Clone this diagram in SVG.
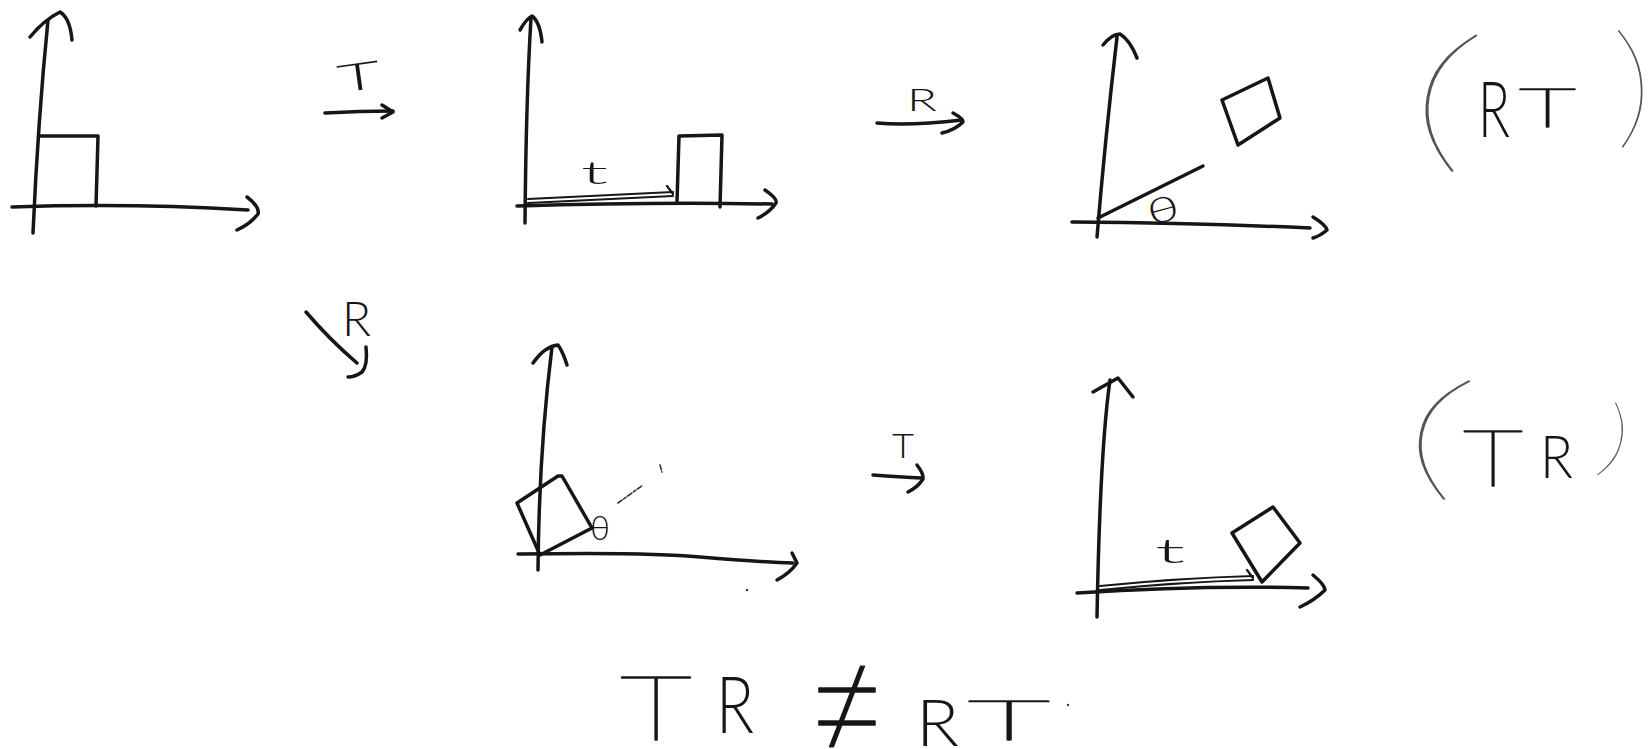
<svg xmlns="http://www.w3.org/2000/svg" width="1651" height="749" viewBox="0 0 1651 749">
<style>
  .ln{fill:none;stroke:#161616;stroke-width:3.5;stroke-linecap:round;stroke-linejoin:round}
  .thin{fill:none;stroke:#161616;stroke-width:2.2;stroke-linecap:round;stroke-linejoin:round}
  .hair{fill:none;stroke:#333;stroke-width:1.6;stroke-linecap:round;stroke-dasharray:5 2 3 2}
  .lbl{font-family:Lato,"DejaVu Sans",sans-serif;fill:#161616;font-weight:300}
  .big{font-family:Lato,"DejaVu Sans",sans-serif;fill:#161616;font-weight:300}
  .mono{font-weight:100;stroke:#161616;stroke-width:1.4;stroke-linejoin:round}
  .paren{font-family:Lato,"DejaVu Sans",sans-serif;font-weight:100;fill:#555;text-anchor:middle}
</style>
<rect width="1651" height="749" fill="#ffffff"/>

<g id="panel1">
  <path class="ln" d="M33,233 Q38,120 48,20"/>
  <path class="ln" d="M30,37 Q44,20 60,12 Q70,18 72,40"/>
  <path class="ln" d="M40,136 L98,136 L96,206"/>
  <path class="ln" d="M12,207 Q130,203 248,210"/>
  <path class="ln" d="M247,197 Q260,207 258,214 Q250,224 237,230"/>
</g>

<g id="panel2">
  <path class="ln" d="M525,223 Q526,100 531,18"/>
  <path class="ln" d="M520,30 Q527,18 532,16 Q540,22 542,42"/>
  <path class="ln" d="M517,206 Q650,202 772,204"/>
  <path class="ln" d="M765,190 Q778,199 776,203 Q770,212 758,218"/>
  <path class="ln" d="M677,202 L679,136 L722,135 L720,207"/>
  <path class="thin" d="M528,199 L673,192"/>
  <path class="thin" d="M528,203 L673,196"/>
  <path class="thin" d="M667,186 L673,194"/>
  <text class="lbl" x="581" y="184" font-size="32" textLength="27" lengthAdjust="spacingAndGlyphs">t</text>
</g>

<g id="panel3">
  <path class="ln" d="M1097,237 Q1105,140 1117,37"/>
  <path class="ln" d="M1103,45 Q1112,34 1120,34 Q1130,40 1137,58"/>
  <path class="ln" d="M1072,222 Q1200,223 1310,228"/>
  <path class="ln" d="M1313,217 Q1326,225 1327,230 Q1320,236 1313,238"/>
  <path class="ln" d="M1098,218 L1203,166"/>
  <path class="ln" d="M1222,100 L1268,78 L1280,118 L1238,145 Z"/>
  <text class="lbl" x="1147" y="222" font-size="35" textLength="32" lengthAdjust="spacingAndGlyphs" font-weight="400" transform="rotate(-15 1163 210)">θ</text>
</g>

<g id="panel4">
  <path class="ln" d="M538,570 Q539,450 552,347"/>
  <path class="ln" d="M533,363 Q545,346 558,345 Q563,352 567,365"/>
  <path class="ln" d="M518,554 Q650,552 700,557 Q760,562 793,563"/>
  <path class="ln" d="M792,553 L797,563 Q790,573 777,580"/>
  <path class="ln" d="M540,555 L517,503 L558,476 L562,476 L592,528 Z"/>
  <path class="hair" d="M618,503 L643,485"/>
  <path class="hair" d="M660,465 L662,472"/>
  <circle cx="747" cy="590" r="1.2" fill="#333"/>
  <text class="lbl" x="590" y="540" font-size="34" textLength="20" lengthAdjust="spacingAndGlyphs">θ</text>
</g>

<g id="panel5">
  <path class="ln" d="M1097,617 Q1100,450 1110,380"/>
  <path class="ln" d="M1093,392 L1118,378 L1133,397"/>
  <path class="ln" d="M1077,593 Q1200,585 1308,588"/>
  <path class="ln" d="M1313,575 Q1325,585 1325,590 Q1315,600 1300,607"/>
  <path class="thin" d="M1100,586 Q1180,578 1253,576"/>
  <path class="thin" d="M1100,590 Q1180,582 1253,580"/>
  <path class="thin" d="M1247,570 L1253,578"/>
  <path class="ln" d="M1232,533 L1273,507 L1300,543 L1262,582 Z"/>
  <text class="lbl" x="1155" y="563" font-size="34" textLength="30" lengthAdjust="spacingAndGlyphs">t</text>
</g>

<g id="connectors">
  <g id="arrow-T1">
    <path class="ln" d="M325,113 Q360,111 393,111"/>
    <path class="ln" d="M382,105 L393,112 L382,118"/>
    <text class="lbl" x="337" y="90" font-size="38" textLength="43" lengthAdjust="spacingAndGlyphs" transform="rotate(-8 359 75)">T</text>
  </g>
  <g id="arrow-R1">
    <path class="ln" d="M877,123 Q910,126 962,120"/>
    <path class="ln" d="M953,113 Q964,119 963,122 Q955,130 942,133"/>
    <text class="lbl" x="907" y="111" font-size="31" textLength="30" lengthAdjust="spacingAndGlyphs">R</text>
  </g>
  <g id="arrow-R2">
    <path class="ln" d="M306,312 Q330,340 357,363"/>
    <path class="ln" d="M366,347 Q368,365 362,372 Q355,377 348,377"/>
    <text class="lbl" x="342" y="336" font-size="48" textLength="29" lengthAdjust="spacingAndGlyphs">R</text>
  </g>
  <g id="arrow-T2">
    <path class="ln" d="M873,475 Q900,477 922,478"/>
    <path class="ln" d="M917,465 Q924,474 923,479 Q918,487 908,492"/>
    <text class="lbl" x="892" y="458" font-size="34" textLength="22" lengthAdjust="spacingAndGlyphs">T</text>
  </g>
</g>

<g id="label-RT">
  <text class="paren" x="0" y="50" font-size="160" transform="translate(1443,100) rotate(10) scale(1.7,1)">(</text>
  <text class="big" font-size="74"><tspan x="1478" y="137" font-size="76" textLength="32" lengthAdjust="spacingAndGlyphs">R</tspan><tspan class="mono" x="1519" y="127" font-size="54" textLength="57" lengthAdjust="spacingAndGlyphs">T</tspan></text>
  <text class="paren" x="0" y="44" font-size="135" transform="translate(1633,87) rotate(-2) scale(1.15,1)">)</text>
</g>

<g id="label-TR">
  <text class="paren" x="0" y="44" font-size="140" transform="translate(1436,436) rotate(12) scale(1.9,1)">(</text>
  <text class="big" font-size="76"><tspan class="mono" x="1463" y="486" font-size="78" textLength="60" lengthAdjust="spacingAndGlyphs" stroke-width="2">T</tspan><tspan x="1540" y="478" font-size="60" textLength="33" lengthAdjust="spacingAndGlyphs">R</tspan></text>
  <text class="paren" x="0" y="28" font-size="86" transform="translate(1615,440) rotate(14) scale(1.25,1)">)</text>
</g>

<g id="equation">
  <text class="big" font-size="92"><tspan class="mono" x="620" y="740" font-size="90" textLength="72" lengthAdjust="spacingAndGlyphs" stroke-width="2.4">T</tspan><tspan x="716" y="733" font-size="78" textLength="38" lengthAdjust="spacingAndGlyphs">R</tspan><tspan class="mono" x="794" y="756" font-size="175" textLength="106" lengthAdjust="spacingAndGlyphs" font-family="Inter, Lato, sans-serif" stroke-width="2.2">≠</tspan><tspan x="916" y="746" font-size="65" textLength="43" lengthAdjust="spacingAndGlyphs">R</tspan><tspan class="mono" x="968" y="740" font-size="56" textLength="82" lengthAdjust="spacingAndGlyphs" stroke-width="1.6">T</tspan></text>
  <circle cx="1068" cy="705" r="1.2" fill="#333"/>
</g>
</svg>
